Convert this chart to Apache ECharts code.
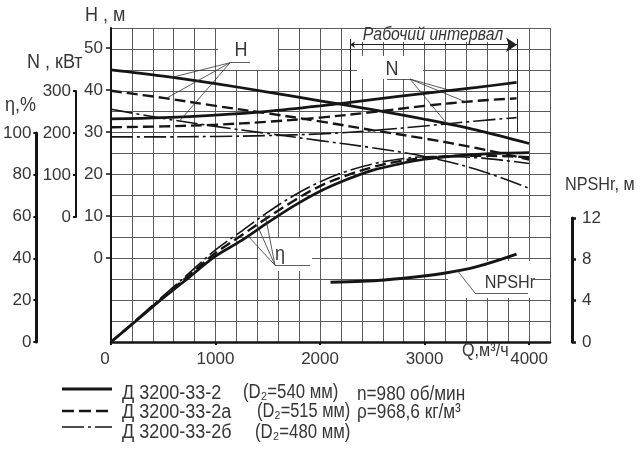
<!DOCTYPE html>
<html><head><meta charset="utf-8">
<script src="https://cdn.jsdelivr.net/npm/echarts@6/dist/echarts.min.js"></script>
<style>html,body{margin:0;padding:0;background:#fff}#c{width:640px;height:454px}</style>
</head><body><div id="c"></div>
<script>
const FONT = "'Liberation Sans','Arimo',Arial,sans-serif";
const TXT = '#363636';
const INK = '#151515';
const GRIDC = '#5a5a5a';
const FS = 17;

// ---- data ----
const qH = [0, 500, 1000, 1500, 2000, 2500, 3000, 3500, 4000];
const hSolid   = [45, 43.5, 41.7, 39.7, 37.6, 35.5, 33.2, 30.6, 27.4];
const hDashed  = [40, 38.3, 36.4, 34.6, 32.7, 30.6, 28.6, 26.3, 23.6];
const hDashDot = [35.6, 33.4, 31.5, 29.8, 28.1, 26.4, 24.3, 21.2, 16.7];

const qN = [0, 500, 1000, 1500, 2000, 2500, 3000, 3500, 3880];
const nSolid   = [233, 236, 242, 251, 264, 279, 294, 308, 320];
const nDashed  = [213, 215, 219, 226, 236, 249, 264, 276, 282];
const nDashDot = [190, 190, 191, 193, 197, 205, 216, 228, 236];

const qEta = [0, 250, 500, 750, 1000, 1250, 1500, 1750, 2000, 2250, 2500, 2750, 3000, 3250, 3500, 3750, 4000];
const etaSolid   = [0, 10.5, 21, 31, 41, 48.5, 57, 65, 72, 77.5, 82, 85, 87.3, 88.7, 89.6, 90.2, 90.5];
const etaDashed  = [0, 10.7, 21.5, 32, 42.5, 51, 59.5, 67.5, 74.5, 79.5, 83.5, 86.3, 88, 88.8, 89, 88.8, 88.3];
const etaDashDot = [0, 11, 22, 33, 44, 53, 62, 70, 76.5, 81.5, 85, 87.3, 88.5, 88.6, 88, 86.8, 85.3];

const qNpsh = [2100, 2400, 2800, 3200, 3500, 3880];
const npsh  = [5.7, 5.8, 6.1, 6.6, 7.2, 8.4];

// tick labels
const xLabels = [0, 1000, 2000, 3000, 4000];
const hLabels = [0, 10, 20, 30, 40, 50];
const etaLabels = [0, 20, 40, 60, 80, 100];
const nLabels = [0, 100, 200, 300];
const npshLabels = [0, 4, 8, 12];

// annotation leaders (data coordinates)
const hLeaderAnchor = [1139, 46.7];
const hLeaderEnds = [[565, 43.1], [536, 38.3], [660, 32.9]];
const hUnderline = [[1139, 46.7], [1330, 46.7]];
const nLeaderAnchor = [2861, 328];
const nLeaderEnds = [[3244, 301], [3407, 272], [3215, 221]];
const nUnderline = [[2640, 328], [2861, 328]];
const etaLeaderAnchor = [1569, 36.7];
const etaLeaderEnds = [[1311, 50.6], [1397, 56], [1474, 61]];
const etaUnderline = [[1569, 36.7], [1904, 36.7]];
const npshLeader = [[3311, 6.86], [3483, 4.67]];
const npshUnderline = [[3483, 4.67], [3990, 4.67]];
const workRange = [2287, 3885];
const workArrowH = 51;
const workTopH = 52.4;
const workBottomH = [36.6, 30];

const zip = (q, v) => q.map((x, i) => [x, v[i]]);

const SOLID = {width: 2.7, color: INK, type: 'solid'};
const DASHED = {width: 2.4, color: INK, type: [11, 5]};
const DASHDOT = {width: 1.6, color: INK, type: [22, 4, 3, 4]};

function curve(name, q, v, yi, style) {
  return {type: 'line', name, data: zip(q, v), xAxisIndex: 0, yAxisIndex: yi,
    showSymbol: false, symbol: 'none', smooth: 0.35, lineStyle: style, silent: true, z: 3, animation: false};
}
function leaders(anchor, ends, under, yi) {
  const data = ends.map(e => ({coords: [anchor, e]}));
  data.push({coords: under});
  return {type: 'lines', coordinateSystem: 'cartesian2d', xAxisIndex: 0, yAxisIndex: yi,
    data, lineStyle: {color: '#333', width: 0.8, opacity: 1}, silent: true, z: 4, animation: false};
}

const labelFont = {fontFamily: FONT, fontSize: FS, color: TXT};

const chart = echarts.init(document.getElementById('c'), null, {renderer: 'canvas'});
const option = {
  backgroundColor: '#fff',
  animation: false,
  grid: [
    {left: 111, right: 90, top: 28, bottom: 112},
    {left: 111, width: 10, top: 48, bottom: 196},
    {left: 34, width: 10, top: 133, bottom: 112},
    {left: 76, width: 10, top: 91, bottom: 237},
    {left: 562, width: 10, top: 218, bottom: 112}
  ],
  xAxis: [
    {gridIndex: 0, type: 'value', min: 0, max: 4200, interval: 200, position: 'bottom',
      axisLine: {show: true, onZero: false, lineStyle: {color: INK, width: 2.5}}, axisTick: {show: false}, axisLabel: {show: false},
      splitLine: {show: true, lineStyle: {color: GRIDC, width: 1}}},
    {gridIndex: 0, type: 'value', min: 0, max: 4200, interval: 1000, position: 'bottom',
      axisLine: {show: false, onZero: false}, splitLine: {show: false},
      axisTick: {show: true, length: 3, lineStyle: {color: INK, width: 2}},
      axisLabel: Object.assign({margin: 9, showMaxLabel: false,
        formatter: v => v === 0 ? '{z|0}' : (xLabels.includes(v) ? String(v) : ''),
        rich: {z: {fontFamily: FONT, fontSize: FS, color: TXT, padding: [0, 12, 0, 0]}}}, labelFont)},
    {gridIndex: 1, type: 'value', show: false},
    {gridIndex: 2, type: 'value', show: false},
    {gridIndex: 3, type: 'value', show: false},
    {gridIndex: 4, type: 'value', show: false}
  ],
  yAxis: [
    {gridIndex: 0, type: 'value', min: -20, max: 55, interval: 5,
      axisLine: {show: true, onZero: false, lineStyle: {color: INK, width: 2}}, axisTick: {show: false}, axisLabel: {show: false},
      splitLine: {show: true, lineStyle: {color: GRIDC, width: 1}}},
    {gridIndex: 0, type: 'value', min: 0, max: 150, show: false},
    {gridIndex: 0, type: 'value', min: -300, max: 450, show: false},
    {gridIndex: 0, type: 'value', min: 0, max: 30, show: false},
    {gridIndex: 1, type: 'value', min: 0, max: 50, interval: 10, position: 'left',
      axisLine: {show: false, onZero: false}, splitLine: {show: false},
      axisTick: {show: true, length: 5, lineStyle: {color: INK, width: 1.5}},
      axisLabel: Object.assign({margin: 8, formatter: v => hLabels.includes(v) ? String(v) : ''}, labelFont)},
    {gridIndex: 2, type: 'value', min: 0, max: 100, interval: 20, position: 'left',
      axisLine: {show: true, onZero: false, lineStyle: {color: INK, width: 3}}, splitLine: {show: false},
      axisTick: {show: true, length: 3, lineStyle: {color: INK, width: 2}},
      axisLabel: Object.assign({margin: 5, formatter: v => etaLabels.includes(v) ? String(v) : ''}, labelFont)},
    {gridIndex: 3, type: 'value', min: 0, max: 300, interval: 100, position: 'left',
      axisLine: {show: true, onZero: false, lineStyle: {color: INK, width: 2}}, splitLine: {show: false},
      axisTick: {show: true, length: 3, lineStyle: {color: INK, width: 2}},
      axisLabel: Object.assign({margin: 5, formatter: v => nLabels.includes(v) ? String(v) : ''}, labelFont)},
    {gridIndex: 4, type: 'value', min: 0, max: 12, interval: 4, position: 'right',
      axisLine: {show: true, onZero: false, lineStyle: {color: INK, width: 3}}, splitLine: {show: false},
      axisTick: {show: true, length: 4, lineStyle: {color: INK, width: 2.5}},
      axisLabel: Object.assign({margin: 10, formatter: v => npshLabels.includes(v) ? String(v) : ''}, labelFont)}
  ],
  series: [
    curve('H D540', qH, hSolid, 0, SOLID),
    curve('H D515', qH, hDashed, 0, DASHED),
    curve('H D480', qH, hDashDot, 0, DASHDOT),
    curve('N D540', qN, nSolid, 2, SOLID),
    curve('N D515', qN, nDashed, 2, DASHED),
    curve('N D480', qN, nDashDot, 2, DASHDOT),
    curve('eta D540', qEta, etaSolid, 1, SOLID),
    curve('eta D515', qEta, etaDashed, 1, DASHED),
    curve('eta D480', qEta, etaDashDot, 1, DASHDOT),
    curve('NPSHr', qNpsh, npsh, 3, {width: 3, color: INK, type: 'solid'}),
    leaders(hLeaderAnchor, hLeaderEnds, hUnderline, 0),
    leaders(nLeaderAnchor, nLeaderEnds, nUnderline, 2),
    leaders(etaLeaderAnchor, etaLeaderEnds, etaUnderline, 1),
    {type: 'lines', coordinateSystem: 'cartesian2d', xAxisIndex: 0, yAxisIndex: 3,
      data: [{coords: npshLeader}, {coords: npshUnderline}],
      lineStyle: {color: '#333', width: 0.8, opacity: 1}, silent: true, z: 4, animation: false},
    {type: 'lines', coordinateSystem: 'cartesian2d', xAxisIndex: 0, yAxisIndex: 0,
      data: [{coords: [[workRange[0], workTopH], [workRange[0], workBottomH[0]]]},
             {coords: [[workRange[1], workTopH], [workRange[1], workBottomH[1]]]}],
      lineStyle: {color: '#222', width: 1, opacity: 1}, silent: true, z: 4, animation: false},
    {type: 'lines', coordinateSystem: 'cartesian2d', xAxisIndex: 0, yAxisIndex: 0,
      symbol: ['arrow', 'arrow'], symbolSize: [5, 11],
      data: [{coords: [[workRange[0], workArrowH], [workRange[1], workArrowH]]}],
      lineStyle: {color: '#222', width: 1, opacity: 1}, silent: true, z: 4, animation: false}
  ]
};

function txt(text, x, y, opts) {
  opts = opts || {};
  const sx = opts.sx || 0.9;
  return {type: 'text', x, y, z: 10, silent: true, scaleX: sx, scaleY: 1,
    style: {text, fill: opts.fill || TXT, align: opts.align || 'left', verticalAlign: 'middle',
      font: (opts.italic ? 'italic ' : '') + (opts.size || 20) + 'px ' + FONT}};
}
function box(x, y, w, h) {
  return {type: 'rect', z: 1, silent: true, shape: {x, y, width: w, height: h}, style: {fill: '#fff'}};
}
function lg(y, dash, w) {
  return {type: 'line', z: 10, silent: true, shape: {x1: 62, y1: y, x2: 112, y2: y},
    style: {stroke: INK, lineWidth: w, lineDash: dash}};
}

option.graphic = [
  box(218, 29, 60, 41),
  box(357, 56, 66, 23),
  box(353, 29, 161, 13),
  box(258, 238, 54, 33),
  box(448, 261, 85, 37),
  txt('H , м', 85, 15),
  txt('N , кВт', 27, 62),
  txt('η,%', 5, 105),
  txt('NPSHr, м', 565, 185, {size: 18}),
  txt('Q,м³/ч', 462, 351, {size: 18}),
  txt('H', 241, 50, {align: 'center'}),
  txt('N', 392, 69, {align: 'center'}),
  txt('η', 280, 254, {align: 'center'}),
  txt('NPSHr', 510, 283, {align: 'center', size: 18}),
  txt('Рабочий интервал', 433, 35, {align: 'center', italic: true, size: 18, sx: 0.88}),
  lg(389, null, 3),
  lg(411, [12, 5], 2.6),
  lg(427, [22, 4, 3, 4], 1.6),
  txt('Д 3200-33-2', 122, 393),
  txt('Д 3200-33-2а', 122, 412),
  txt('Д 3200-33-2б', 122, 432),
  txt('(D₂=540 мм)', 243, 392, {sx: 0.84}),
  txt('(D₂=515 мм)', 257, 411, {sx: 0.82}),
  txt('(D₂=480 мм)', 255, 432, {sx: 0.84}),
  txt('n=980 об/мин', 357, 394, {sx: 0.86}),
  txt('ρ=968,6 кг/м³', 357, 412, {sx: 0.86})
];

chart.setOption(option);
</script>
</body></html>
